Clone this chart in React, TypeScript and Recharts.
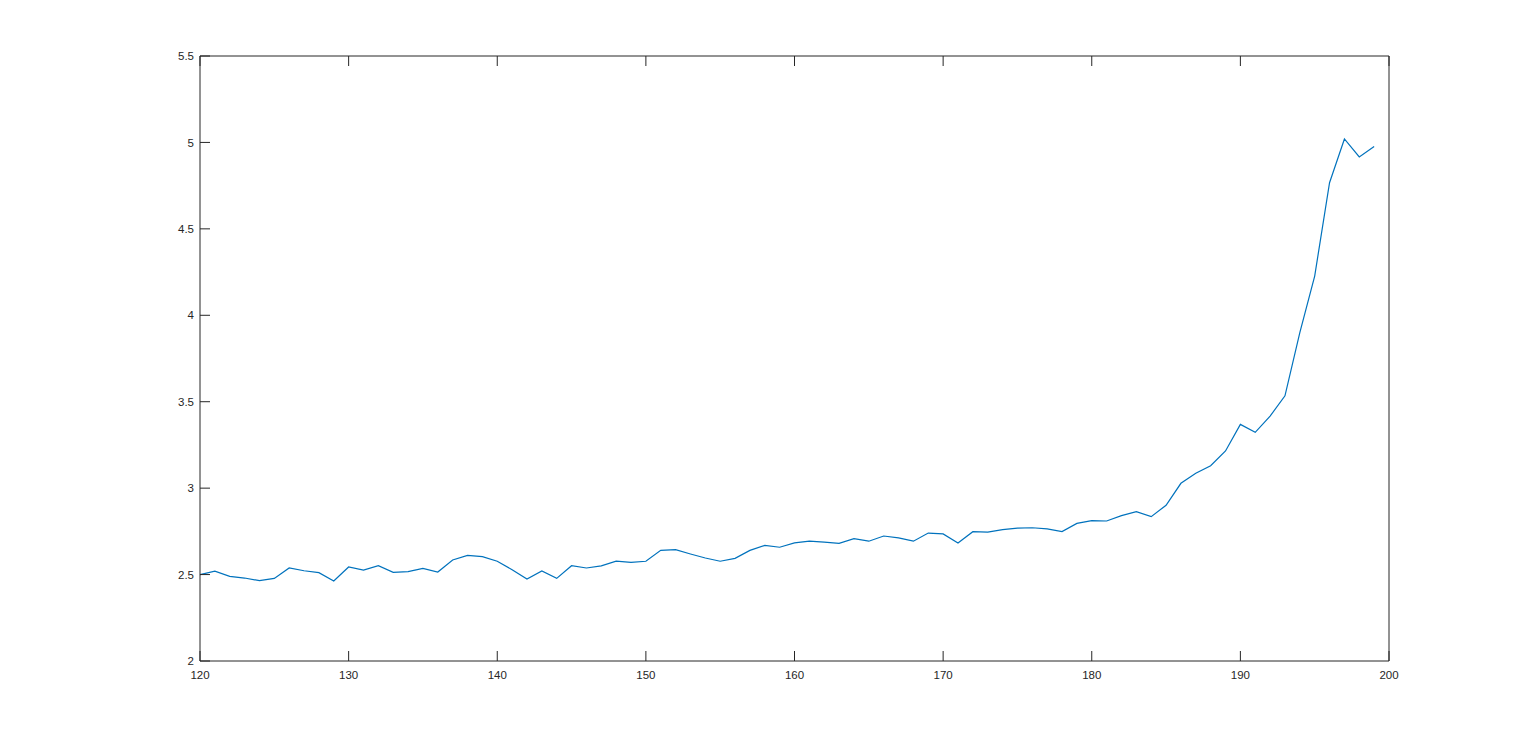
import { LineChart, Line, XAxis, YAxis } from "recharts";

// x positions (one sample per unit)
const X_VALUES = [
  120, 121, 122, 123, 124, 125, 126, 127, 128, 129,
  130, 131, 132, 133, 134, 135, 136, 137, 138, 139,
  140, 141, 142, 143, 144, 145, 146, 147, 148, 149,
  150, 151, 152, 153, 154, 155, 156, 157, 158, 159,
  160, 161, 162, 163, 164, 165, 166, 167, 168, 169,
  170, 171, 172, 173, 174, 175, 176, 177, 178, 179,
  180, 181, 182, 183, 184, 185, 186, 187, 188, 189,
  190, 191, 192, 193, 194, 195, 196, 197, 198, 199,
];

// series values
const Y_VALUES = [
  2.50, 2.52, 2.49, 2.48, 2.465, 2.478, 2.538, 2.522, 2.511, 2.463,
  2.544, 2.526, 2.551, 2.513, 2.517, 2.536, 2.515, 2.584, 2.611, 2.604,
  2.577, 2.528, 2.474, 2.521, 2.478, 2.551, 2.538, 2.55, 2.578, 2.571,
  2.577, 2.64, 2.644, 2.619, 2.596, 2.577, 2.594, 2.64, 2.669, 2.658,
  2.683, 2.694, 2.688, 2.681, 2.708, 2.693, 2.723, 2.712, 2.693, 2.74,
  2.735, 2.683, 2.748, 2.746, 2.76, 2.769, 2.771, 2.764, 2.749, 2.796,
  2.812, 2.81, 2.841, 2.864, 2.835, 2.901, 3.028, 3.086, 3.13, 3.215,
  3.369, 3.323, 3.417, 3.534, 3.9, 4.227, 4.767, 5.02, 4.916, 4.977,
];

const X_TICKS = [120, 130, 140, 150, 160, 170, 180, 190, 200];
const Y_TICKS = [2, 2.5, 3, 3.5, 4, 4.5, 5, 5.5];

const data = X_VALUES.map((x, i) => ({ x, y: Y_VALUES[i] }));

const AXIS_COLOR = "#262626";
const tickStyle = { fill: AXIS_COLOR, fontSize: 11.5, fontFamily: "'Liberation Sans', Arial, sans-serif" };

export default function App() {
  return (
    <div style={{ position: "absolute", left: 0, top: 0, width: 1536, height: 744, background: "#fff" }}>
      <LineChart
        width={1536}
        height={744}
        data={data}
        margin={{ top: 36, right: 127, bottom: 53, left: 140 }}
      >
        <XAxis
          xAxisId="bottom"
          dataKey="x"
          type="number"
          domain={[120, 200]}
          ticks={X_TICKS}
          interval={0}
          height={30}
          tickSize={-10}
          tickMargin={20}
          stroke={AXIS_COLOR}
          tick={tickStyle}
        />
        <XAxis
          xAxisId="top"
          orientation="top"
          dataKey="x"
          type="number"
          domain={[120, 200]}
          ticks={X_TICKS}
          interval={0}
          height={20}
          tickSize={-10}
          tickFormatter={() => ""}
          stroke={AXIS_COLOR}
        />
        <YAxis
          yAxisId="left"
          type="number"
          domain={[2, 5.5]}
          ticks={Y_TICKS}
          interval={0}
          width={60}
          tickSize={-10}
          tickMargin={16}
          stroke={AXIS_COLOR}
          tick={tickStyle}
        />
        <YAxis
          yAxisId="right"
          orientation="right"
          type="number"
          domain={[2, 5.5]}
          ticks={Y_TICKS}
          interval={0}
          width={20}
          tickSize={-10}
          tickFormatter={() => ""}
          stroke={AXIS_COLOR}
        />
        <Line
          xAxisId="bottom"
          yAxisId="left"
          type="linear"
          dataKey="y"
          stroke="#0072BD"
          strokeWidth={1.2}
          dot={false}
          isAnimationActive={false}
        />
      </LineChart>
    </div>
  );
}
